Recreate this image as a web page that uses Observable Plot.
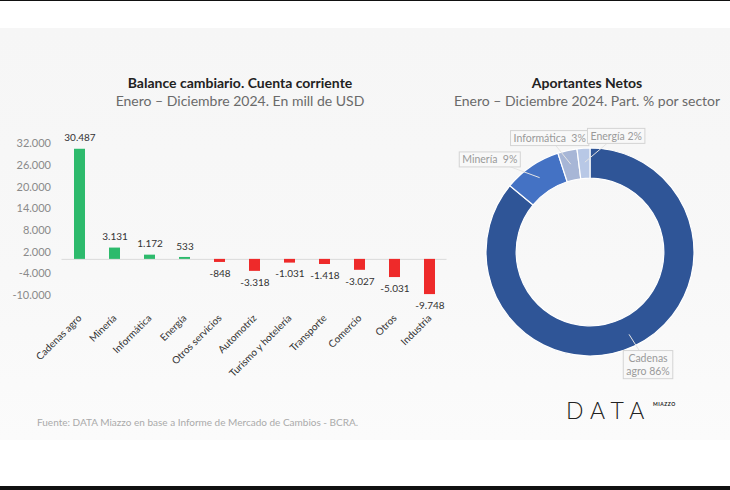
<!DOCTYPE html>
<html><head><meta charset="utf-8">
<script src="https://cdn.jsdelivr.net/npm/d3@7"></script>
<script src="https://cdn.jsdelivr.net/npm/@observablehq/plot@0.6"></script>
<style>
html,body{margin:0;padding:0;background:#fff;}
#page{position:relative;width:730px;height:490px;overflow:hidden;font-family:Lato,"Open Sans",sans-serif;}
.topline{position:absolute;left:0;top:0;width:730px;height:1px;background:#111;}
.panel{position:absolute;left:0;top:28px;width:730px;height:412px;background:linear-gradient(180deg,#f6f6f6 0%,#f8f8f8 60%,#fbfbfb 100%);}
.t{position:absolute;text-align:center;font-size:14px;line-height:18px;font-weight:700;color:#222;white-space:nowrap;}
.s{position:absolute;text-align:center;font-size:14px;line-height:18px;color:#6a6a6a;white-space:nowrap;}
.src{position:absolute;left:37px;top:416px;font-size:10px;line-height:12px;color:#aaa;white-space:nowrap;}
.logo{position:absolute;left:566px;top:398px;font-size:23px;line-height:24px;font-weight:300;letter-spacing:7px;color:#222;white-space:nowrap;}
.logo span{position:absolute;left:87px;top:3px;font-size:5px;line-height:6px;letter-spacing:0.5px;font-weight:700;}
.bottombar{position:absolute;left:0;top:486px;width:730px;height:4px;background:#111;}
#left,#right{position:absolute;}
</style>
</head><body>
<div id="page">
  <div class="topline"></div>
  <div class="panel"></div>
  <div class="t" style="left:40px;width:400px;top:74px">Balance cambiario. Cuenta corriente</div>
  <div class="s" style="left:40px;width:400px;top:92px">Enero – Diciembre 2024. En mill de USD</div>
  <div class="t" style="left:437px;width:300px;top:74px">Aportantes Netos</div>
  <div class="s" style="left:437px;width:300px;top:92px">Enero – Diciembre 2024. Part. % por sector</div>
  <div id="left" style="left:0;top:110px"></div>
  <div id="right" style="left:450px;top:115px"></div>
  <div class="src">Fuente: DATA Miazzo en base a Informe de Mercado de Cambios - BCRA.</div>
  <div class="logo">DATA<span>MIAZZO</span></div>
  <div class="bottombar"></div>
</div>
<script>
// ---- Data: Balance cambiario (mill USD) ----
const categories = ["Cadenas agro","Minería","Informática","Energía","Otros servicios","Automotriz","Turismo y hotelería","Transporte","Comercio","Otros","Industria"];
const values = [30487, 3131, 1172, 533, -848, -3318, -1031, -1418, -3027, -5031, -9748];
const yTicks = [32000, 26000, 20000, 14000, 8000, 2000, -4000, -10000];

// ---- Data: Aportantes netos (% share) ----
const sectors = ["Cadenas agro","Minería","Informática","Energía"];
const shares = [86, 9, 3, 2];
const shareLabels = ["Cadenas\nagro 86%", "Minería  9%", "Informática  3%", "Energía 2%"];

const fmt = d3.formatLocale({decimal:",", thousands:".", grouping:[3], currency:["$",""], minus:"-"}).format(",d");

// ---------- Left chart ----------
const rows = categories.map((c, i) => ({cat: c, value: values[i]}));
const posRows = rows.filter(d => d.value >= 0);
const negRows = rows.filter(d => d.value < 0);

const left = Plot.plot({
  width: 455, height: 285,
  marginLeft: 61.5, marginRight: 8.5, marginTop: 33.3, marginBottom: 100,
  style: {background: "transparent", fontFamily: "Lato, 'Open Sans', sans-serif"},
  x: {domain: categories, paddingInner: 0.7, paddingOuter: 0.35, label: null},
  y: {domain: [-10000, 32000], label: null},
  marks: [
    Plot.ruleY([0], {stroke: "#dadada"}),
    Plot.barY(posRows, {x: "cat", y: "value", fill: "#2dba6c"}),
    Plot.barY(negRows, {x: "cat", y: "value", fill: "#ee2a2a"}),
    Plot.text(posRows, {x: "cat", y: "value", text: d => fmt(d.value), dy: -11, fontSize: 10, fill: "#333"}),
    Plot.text(negRows, {x: "cat", y: "value", text: d => fmt(d.value), dy: 11, fontSize: 10, fill: "#333"}),
    Plot.axisY({ticks: yTicks, tickFormat: fmt, tickSize: 0, tickPadding: 11, fontSize: 11, fill: "#8a8a8a"}),
    Plot.axisX({tickRotate: -45, tickSize: 0, tickPadding: 21, fontSize: 10, fill: "#333"})
  ]
});
document.getElementById("left").append(left);

// ---------- Right chart (donut) ----------
const donutData = sectors.map((s, i) => ({sector: s, share: shares[i], label: shareLabels[i]}));
const sliceColors = d3.scaleOrdinal(sectors, ["#2f5597", "#4472c4", "#a7b6d6", "#b8c8e6"]);
const innerR = 0.71, outerR = 1.0;
const pie = d3.pie().sort(null).value(d => d.share)(donutData);
// label layout (radius in ring units, angle shift in degrees)
const labelLayout = [{r: 1.21, turn: -2}, {r: 1.32, turn: -13}, {r: 1.17, turn: -7}, {r: 1.15, turn: 16}];
const polar = (ang, r) => [Math.sin(ang) * r, Math.cos(ang) * r];
const labelRows = pie.map((p, i) => {
  const mid = (p.startAngle + p.endAngle) / 2;
  const [lx, ly] = polar(mid + labelLayout[i].turn * Math.PI / 180, labelLayout[i].r);
  const [sx, sy] = polar(mid, 0.87);
  return {label: p.data.label, lx, ly, sx, sy};
});

function donut(index, scales) {
  const x = scales.x, y = scales.y;
  const cx = x(0), cy = y(0);
  const R = x(outerR) - cx, r = x(innerR) - cx;
  const arc = d3.arc().innerRadius(r).outerRadius(R);
  const g = d3.create("svg:g").attr("transform", `translate(${cx},${cy})`);
  g.selectAll("path").data(pie).join("path")
    .attr("d", arc)
    .attr("fill", d => sliceColors(d.data.sector))
    .attr("stroke", "#fff").attr("stroke-width", 1.2);
  return g.node();
}

const U = 104;
const right = Plot.plot({
  width: 280, height: 275,
  margin: 0,
  style: {background: "transparent", fontFamily: "Lato, 'Open Sans', sans-serif"},
  x: {domain: [-140 / U, 140 / U], axis: null},
  y: {domain: [-138 / U, 137 / U], axis: null},
  marks: [
    donut,
    Plot.link(labelRows, {x1: "sx", y1: "sy", x2: "lx", y2: "ly", stroke: "#e4e4e4", strokeWidth: 1}),
    Plot.text(labelRows, {x: "lx", y: "ly", text: "label", fontSize: 10.5, fill: "#9a9a9a", lineHeight: 1.25})
  ]
});
document.getElementById("right").append(right);

// boxes around donut labels
d3.select(right).selectAll('g[aria-label="text"] text').each(function() {
  const b = this.getBBox();
  d3.select(this.parentNode).insert("rect", () => this)
    .attr("transform", this.getAttribute("transform"))
    .attr("x", b.x - 3).attr("y", b.y - 1.5)
    .attr("width", b.width + 6).attr("height", b.height + 3)
    .attr("fill", "#f8f8f8").attr("stroke", "#d4d4d4").attr("stroke-width", 1);
});
</script>
</body></html>
